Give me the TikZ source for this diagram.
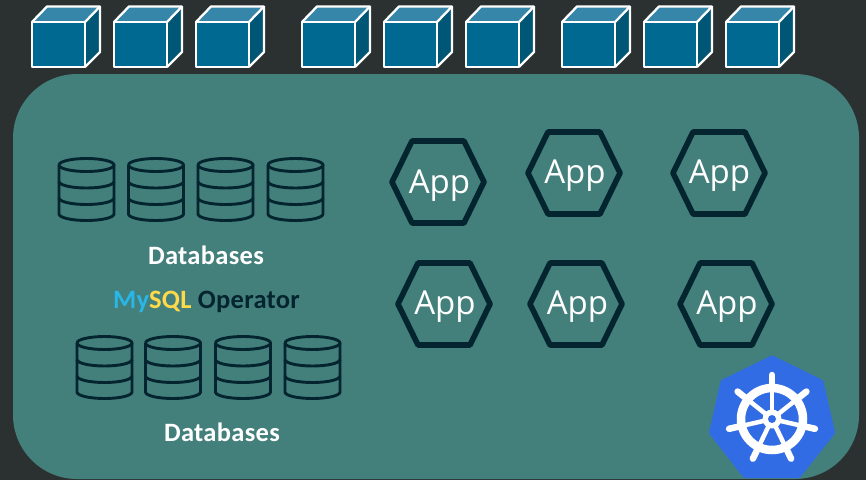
\documentclass[tikz,border=0pt]{standalone}
\usepackage{fontspec}
\setmainfont{Carlito}
\newfontfamily\appfont{Open Sans}
\definecolor{bgdark}{HTML}{2B3030}
\definecolor{panel}{HTML}{43807B}
\definecolor{ink}{HTML}{04252F}
\definecolor{cubefront}{HTML}{006991}
\definecolor{cubetop}{HTML}{3586A8}
\definecolor{cubeside}{HTML}{005675}
\definecolor{k8s}{HTML}{326CE5}
\definecolor{mysqlblue}{HTML}{29B6E8}
\definecolor{mysqlyellow}{HTML}{FFD94A}
\tikzset{
  cubeline/.style={draw=white,line width=2.3pt,line join=round},
  dbline/.style={draw=ink,line width=2.9pt,line join=round},
  hexline/.style={draw=ink,line width=5.6pt,line join=round},
  apptext/.style={text=white,font=\appfont\fontsize{33}{36}\selectfont,inner sep=0pt},
  dbtext/.style={text=white,font=\bfseries\fontsize{26.5}{28}\selectfont\addfontfeature{LetterSpace=1.2},inner sep=0pt},
  optext/.style={font=\bfseries\fontsize{26.5}{28}\selectfont\addfontfeature{LetterSpace=1.2},inner sep=0pt},
  pics/cubebox/.style={code={
    \fill[cubefront] (0,0) rectangle (53,45);
    \fill[cubetop] (0,0) -- (15,-15.5) -- (68,-15.5) -- (53,0) -- cycle;
    \fill[cubeside] (53,0) -- (68,-15.5) -- (68,30) -- (53,45) -- cycle;
    \draw[cubeline] (0,0) rectangle (53,45);
    \draw[cubeline] (0,0) -- (15,-15.5) -- (68,-15.5) -- (68,30) -- (53,45);
    \draw[cubeline] (53,0) -- (68,-15.5);
  }},
  pics/dbstack/.style={code={
    \draw[dbline] (0,7) arc[start angle=180,end angle=540,x radius=27.5,y radius=6.5];
    \draw[dbline] (0,7) -- (0,56) arc[start angle=180,end angle=360,x radius=27.5,y radius=-6.5] -- (55,7);
    \draw[dbline] (0,23.5) arc[start angle=180,end angle=360,x radius=27.5,y radius=-6.5];
    \draw[dbline] (0,40) arc[start angle=180,end angle=360,x radius=27.5,y radius=-6.5];
  }},
  pics/apphex/.style={code={
    \draw[hexline] (-46,0) -- (-26,-41) -- (26,-41) -- (46,0) -- (26,41) -- (-26,41) -- cycle;
  }}
}
\begin{document}
\begin{tikzpicture}[x=1pt,y=-1pt]
\useasboundingbox (0,0) rectangle (866,480);
\fill[bgdark] (0,0) rectangle (866,480);
\fill[panel,rounded corners=64pt] (13,74) rectangle (859,479);
% cubes
\foreach \x in {32,114,196,302,384,466,562,644,726}
  \pic at (\x,22) {cubebox};
% databases
\foreach \x in {59,128.5,198,268} \pic at (\x,158) {dbstack};
\foreach \x in {77,145.5,215.5,285} \pic at (\x,336) {dbstack};
\node[dbtext] (dbA) at (206,255.5) {Databases};
\node[dbtext] (dbB) at (222,432.5) {Databases};
\node[optext] (op) at (206.5,301.5) {\textcolor{mysqlblue}{My}\textcolor{mysqlyellow}{SQL} \textcolor{ink}{Operator}};
% apps
\foreach \n/\x/\y/\tx/\ty in {a/438/182/439.5/186,b/574/173/575/176,c/719/173/719.5/176,d/444/304/445/307,e/576/304/577.5/307,f/726/304/727/307}{
  \pic at (\x,\y) {apphex};
  \node[apptext] (app\n) at (\tx,\ty) {App};
}
% kubernetes logo
\fill[k8s,draw=k8s,line width=5pt,line join=round]
  (772,358) -- (821,382) -- (832.5,432.5) -- (798.5,475.5) -- (745,475.5) -- (711.5,432.5) -- (723,382) -- cycle;
\begin{scope}[shift={(772,419)}]
\draw[white,line width=8.5pt] (0,0) circle[radius=31];
\foreach \k in {0,...,6}{
  \pgfmathsetmacro{\a}{-90+\k*51.4286}
  \draw[white,line width=4.5pt] (0,0) -- (\a:32);
  \draw[white,line width=6.5pt,line cap=round] (\a:32) -- (\a:44);
}
\fill[white] (0,0) circle[radius=9.5];
\fill[k8s] (0,0) circle[radius=4];
\end{scope}
\end{tikzpicture}
\end{document}
